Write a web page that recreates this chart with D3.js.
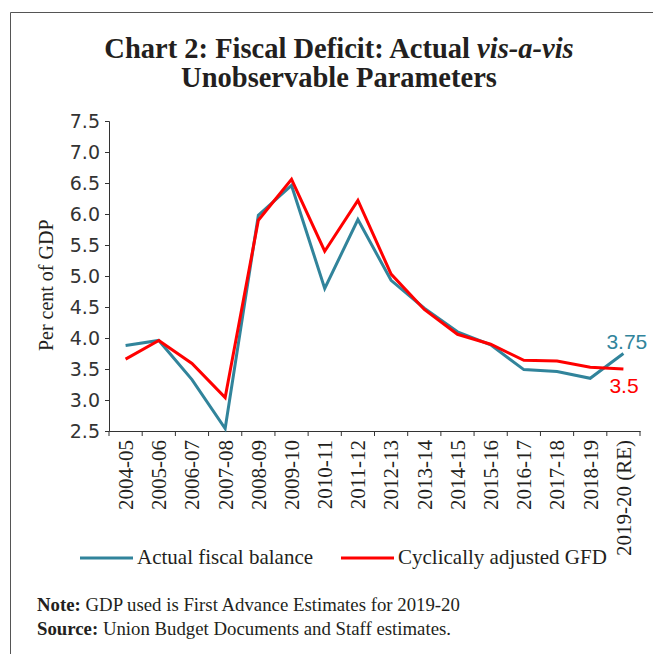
<!DOCTYPE html>
<html>
<head>
<meta charset="utf-8">
<script src="https://cdn.jsdelivr.net/npm/d3@7"></script>
<style>
  body { margin: 0; background: #fff; }
  text { fill: #231f20; }
</style>
</head>
<body>
<div id="chart"></div>
<script>
var years = ['2004-05', '2005-06', '2006-07', '2007-08', '2008-09', '2009-10', '2010-11', '2011-12',
    '2012-13', '2013-14', '2014-15', '2015-16', '2016-17', '2017-18', '2018-19', '2019-20 (RE)'];
var actual = [3.88, 3.96, 3.33, 2.54, 5.98, 6.46, 4.80, 5.91, 4.93, 4.48, 4.10, 3.89, 3.49, 3.46, 3.35, 3.75];
var adjusted = [3.66, 3.96, 3.59, 3.04, 5.90, 6.56, 5.40, 6.22, 5.03, 4.46, 4.06, 3.90, 3.64, 3.63, 3.53, 3.50];
var yTicks = [2.5, 3.0, 3.5, 4.0, 4.5, 5.0, 5.5, 6.0, 6.5, 7.0, 7.5];
var seriesNames = ['Actual fiscal balance', 'Cyclically adjusted GFD'];
var colors = ['#31849b', '#ff0000'];

var W = 653, H = 654;
var margin = { top: 121, left: 109, right: 13, bottom: 223 };
var width = W - margin.left - margin.right,
    height = H - margin.top - margin.bottom;
var serif = "'Liberation Serif', serif";

var svg = d3.select("#chart").append("svg")
    .attr("width", W).attr("height", H);

// frame
svg.append("path")
    .attr("d", "M10.5," + H + "V12.5H" + W)
    .attr("fill", "none").attr("stroke", "#555").attr("stroke-width", 1);

svg.append("text").attr("x", 339).attr("y", 58)
    .attr("text-anchor", "middle")
    .style("font-family", serif).style("font-weight", "bold").style("font-size", "28.5px")
    .html("Chart 2: Fiscal Deficit: Actual <tspan font-style='italic'>vis-a-vis</tspan>");
svg.append("text").attr("x", 339).attr("y", 87)
    .attr("text-anchor", "middle")
    .style("font-family", serif).style("font-weight", "bold").style("font-size", "28.5px")
    .text("Unobservable Parameters");

var g = svg.append("g")
    .attr("transform", "translate(" + margin.left + "," + margin.top + ")");

var x = d3.scaleBand().domain(years).range([0, width]).padding(0);
var y = d3.scaleLinear().domain([2.5, 7.5]).range([height, 0]);

// y axis
var yAxis = g.append("g")
    .call(d3.axisLeft(y).tickValues(yTicks).tickSize(4).tickFormat(d3.format(".1f")));
yAxis.select(".domain").attr("stroke", "#333");
yAxis.selectAll(".tick line").attr("stroke", "#333");
yAxis.selectAll(".tick text")
    .attr("x", -9)
    .style("font-family", "'DejaVu Sans', sans-serif").style("font-size", "19px").style("fill", "#333");

// x axis
var xAxis = g.append("g").attr("transform", "translate(0," + height + ")")
    .call(d3.axisBottom(x).tickSize(0).tickSizeOuter(0));
xAxis.select(".domain").attr("stroke", "#333");
xAxis.selectAll(".tick text")
    .attr("transform", "rotate(-90)")
    .attr("x", -9).attr("y", 0).attr("dy", "0.35em")
    .attr("text-anchor", "end")
    .style("font-family", serif).style("font-size", "21px").style("fill", "#231f20");
var bounds = years.map(function(d) { return x(d); }).concat([x(years[years.length - 1]) + x.bandwidth()]);
xAxis.selectAll(".bound").data(bounds).enter().append("line")
    .attr("x1", function(d) { return d; }).attr("x2", function(d) { return d; })
    .attr("y1", 0).attr("y2", 5)
    .attr("stroke", "#333");

g.append("text")
    .attr("transform", "translate(" + (-56) + "," + y(4.85) + ") rotate(-90)")
    .attr("text-anchor", "middle")
    .style("font-family", serif).style("font-size", "20px")
    .text("Per cent of GDP");

var line = d3.line()
    .x(function(d, i) { return x(years[i]) + x.bandwidth() / 2; })
    .y(function(d) { return y(d); });

[actual, adjusted].forEach(function(s, i) {
    g.append("path").datum(s)
        .attr("d", line)
        .attr("fill", "none")
        .attr("stroke", colors[i])
        .attr("stroke-width", 3)
        .attr("stroke-linejoin", "miter");
});

var last = years.length - 1;
g.append("text")
    .attr("x", x(years[last]) + x.bandwidth() / 2 - 17)
    .attr("y", y(actual[last]) - 5)
    .style("font-family", "'Liberation Sans', sans-serif").style("font-size", "21px")
    .style("fill", colors[0])
    .text(actual[last]);
g.append("text")
    .attr("x", x(years[last]) + x.bandwidth() / 2 - 14)
    .attr("y", y(adjusted[last]) + 24)
    .style("font-family", "'Liberation Sans', sans-serif").style("font-size", "21px")
    .style("fill", colors[1])
    .text(adjusted[last]);

// legend
var legendX = [80, 341];
seriesNames.forEach(function(n, i) {
    var lg = svg.append("g").attr("transform", "translate(" + legendX[i] + ",558)");
    lg.append("line").attr("x1", 0).attr("x2", 53).attr("stroke", colors[i]).attr("stroke-width", 3);
    lg.append("text").attr("x", 57).attr("y", 6)
        .style("font-family", serif).style("font-size", "21px")
        .text(n);
});

svg.append("text").attr("x", 37).attr("y", 611)
    .style("font-family", serif).style("font-size", "18.8px")
    .html("<tspan font-weight='bold'>Note:</tspan> GDP used is First Advance Estimates for 2019-20");
svg.append("text").attr("x", 37).attr("y", 635)
    .style("font-family", serif).style("font-size", "18.8px")
    .html("<tspan font-weight='bold'>Source:</tspan> Union Budget Documents and Staff estimates.");
</script>
</body>
</html>
